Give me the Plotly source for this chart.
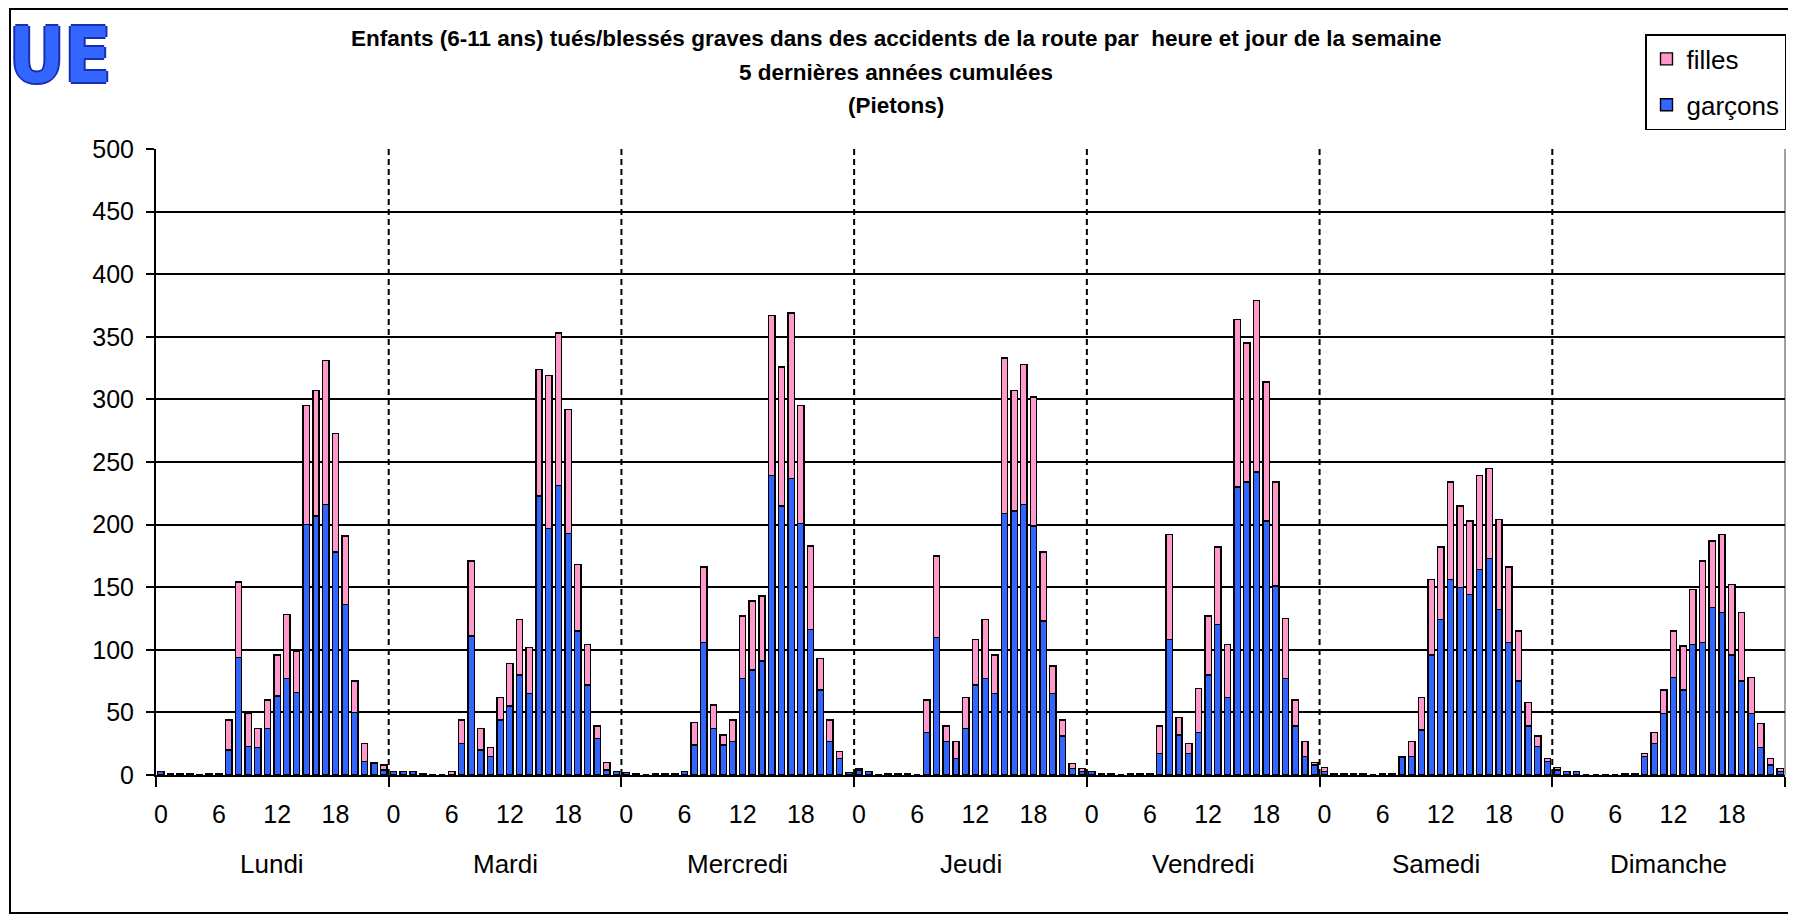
import plotly.graph_objects as go

# ---------------- data ----------------
days = ["Lundi", "Mardi", "Mercredi", "Jeudi", "Vendredi", "Samedi", "Dimanche"]
hour_ticks = [0, 6, 12, 18]
hour_labels = ["0", "6", "12", "18"]

garcons_lundi    = [3, 1, 1, 1, 0, 1, 1, 20, 94, 23, 22, 37, 63, 77, 66, 200, 207, 216, 178, 136, 50, 11, 9, 4]
filles_lundi     = [0, 0, 0, 0, 0, 0, 0, 24, 60, 26, 15, 23, 33, 51, 33, 95, 100, 115, 95, 55, 25, 14, 1, 4]
garcons_mardi    = [3, 3, 3, 1, 0, 0, 0, 25, 111, 20, 15, 44, 55, 80, 65, 223, 197, 231, 193, 115, 72, 29, 4, 3]
filles_mardi     = [0, 0, 0, 0, 0, 0, 3, 19, 60, 17, 7, 18, 34, 44, 37, 101, 122, 122, 99, 53, 32, 10, 6, 0]
garcons_mercredi = [2, 1, 0, 1, 1, 1, 3, 24, 106, 37, 24, 27, 77, 84, 91, 239, 215, 237, 201, 116, 68, 27, 13, 2]
filles_mercredi  = [0, 0, 0, 0, 0, 0, 0, 18, 60, 19, 8, 17, 50, 55, 52, 128, 111, 132, 94, 67, 25, 17, 6, 0]
garcons_jeudi    = [4, 3, 0, 1, 1, 1, 0, 34, 110, 27, 13, 37, 72, 77, 65, 209, 211, 216, 199, 123, 65, 31, 5, 3]
filles_jeudi     = [1, 0, 0, 0, 0, 0, 0, 26, 65, 12, 14, 25, 36, 47, 31, 124, 96, 112, 103, 55, 22, 13, 4, 2]
garcons_vendredi = [3, 1, 1, 0, 1, 1, 1, 17, 108, 32, 17, 34, 80, 120, 62, 230, 234, 242, 203, 151, 77, 39, 15, 8]
filles_vendredi  = [0, 0, 0, 0, 0, 0, 0, 22, 84, 14, 8, 35, 47, 62, 42, 134, 111, 137, 111, 83, 48, 21, 12, 2]
garcons_samedi   = [3, 1, 1, 1, 1, 0, 1, 1, 14, 15, 36, 96, 124, 156, 150, 144, 164, 173, 132, 106, 75, 39, 23, 11]
filles_samedi    = [3, 0, 0, 0, 0, 0, 0, 0, 1, 12, 26, 60, 58, 78, 65, 59, 75, 72, 72, 60, 40, 19, 8, 2]
garcons_dimanche = [4, 3, 3, 0, 0, 0, 0, 1, 1, 15, 25, 49, 78, 68, 104, 106, 134, 130, 96, 75, 49, 22, 8, 3]
filles_dimanche  = [2, 0, 0, 0, 0, 0, 0, 0, 0, 2, 9, 19, 37, 35, 44, 65, 53, 62, 56, 55, 29, 19, 5, 2]

garcons = [garcons_lundi, garcons_mardi, garcons_mercredi, garcons_jeudi,
           garcons_vendredi, garcons_samedi, garcons_dimanche]
filles = [filles_lundi, filles_mardi, filles_mercredi, filles_jeudi,
          filles_vendredi, filles_samedi, filles_dimanche]

title_lines = [
    "Enfants (6-11 ans) tués/blessés graves dans des accidents de la route par  heure et jour de la semaine",
    "5 dernières années cumulées",
    "(Pietons)",
]

# ---------------- layout helpers ----------------
# the page body has an 8px margin: figure pixel = page pixel - OFF
OFF = 8
W, H = 1796 - OFF, 920 - OFF
L, R, T, B = 156, 1785, 149, 775   # plot area in page pixels


def px_x(p):
    return (p - L) / (R - L)


def px_y(p):
    return (B - p) / (B - T)


FONT = "Liberation Sans, Arial, sans-serif"

nh = 24
x = [nh * d + h for d in range(len(days)) for h in range(nh)]
g = [v for day in garcons for v in day]
f = [v for day in filles for v in day]

fig = go.Figure()
fig.add_bar(x=x, y=g, name="garçons", legendgroup="g", legendrank=2,
            marker=dict(color="#3366FF", line=dict(color="black", width=1.4)))
fig.add_bar(x=x, y=f, name="filles", legendgroup="f", legendrank=1,
            marker=dict(color="#FF99CC", line=dict(color="black", width=1.4)))

tickvals = [nh * d + h for d in range(len(days)) for h in hour_ticks]
ticktext = [lab for d in range(len(days)) for lab in hour_labels]

shapes = []
for d in range(1, len(days)):
    shapes.append(dict(type="line", xref="x", yref="y", x0=nh * d - 0.5, x1=nh * d - 0.5,
                       y0=0, y1=500, layer="below",
                       line=dict(color="black", width=2, dash="6px,4px")))
shapes.append(dict(type="line", xref="paper", yref="paper", x0=1, x1=1, y0=0, y1=1,
                   layer="below", line=dict(color="#808080", width=1.5)))
shapes.append(dict(type="rect", xref="paper", yref="paper",
                   x0=px_x(10), x1=px_x(1792), y0=px_y(913), y1=px_y(OFF + 1),
                   line=dict(color="black", width=2), fillcolor="rgba(0,0,0,0)"))

annotations = []
title_y = [38, 72, 106]
for line, yy in zip(title_lines, title_y):
    annotations.append(dict(text="<b>" + line + "</b>", xref="paper", yref="paper",
                            x=px_x(896), y=px_y(yy), xanchor="center", yanchor="middle",
                            showarrow=False, font=dict(family=FONT, size=22.5, color="black")))
for d, name in enumerate(days):
    annotations.append(dict(text=name, xref="x", yref="paper", x=nh * d + 11.5, y=px_y(864),
                            xanchor="center", yanchor="middle", showarrow=False,
                            font=dict(family=FONT, size=26, color="black")))
annotations.append(dict(text="<b>UE</b>", xref="paper", yref="paper", x=px_x(60), y=px_y(OFF + 2),
                        xanchor="center", yanchor="top", showarrow=False, borderpad=0,
                        font=dict(family="DejaVu Sans Condensed, DejaVu Sans, sans-serif",
                                  size=76, color="#3366FF",
                                  shadow="2px 0 #1a2fb0, -2px 0 #1a2fb0, 0 2px #1a2fb0, 0 -2px #1a2fb0")))

fig.update_layout(
    width=W, height=H,
    margin=dict(l=L - OFF, r=W - (R - OFF), t=T - OFF, b=H - (B - OFF), autoexpand=False),
    paper_bgcolor="white", plot_bgcolor="white",
    barmode="stack", bargap=0.35,
    showlegend=True,
    legend=dict(x=px_x(1786), y=px_y(34), xanchor="right", yanchor="top",
                traceorder="grouped", tracegroupgap=9,
                bordercolor="black", borderwidth=1.5, bgcolor="white",
                font=dict(family=FONT, size=26, color="black")),
    xaxis=dict(range=[-0.5, nh * len(days) - 0.5], tickmode="array",
               tickvals=tickvals, ticktext=ticktext, ticks="",
               ticklabelstandoff=16,
               showgrid=False, zeroline=False, showline=True, linecolor="black", linewidth=2,
               tickfont=dict(family=FONT, size=25, color="black"),
               minor=dict(tickmode="linear", tick0=-0.5, dtick=nh, ticks="outside",
                          ticklen=10, tickwidth=2, tickcolor="black", showgrid=False)),
    yaxis=dict(range=[0, 500], dtick=50, tick0=0, showgrid=True, gridcolor="black", gridwidth=1.5,
               zeroline=False, showline=True, linecolor="black", linewidth=2,
               ticks="outside", ticklen=8, tickwidth=2, tickcolor="black",
               ticklabelstandoff=7,
               tickfont=dict(family=FONT, size=25, color="black")),
    shapes=shapes,
    annotations=annotations,
)

fig.write_html("out.html")
